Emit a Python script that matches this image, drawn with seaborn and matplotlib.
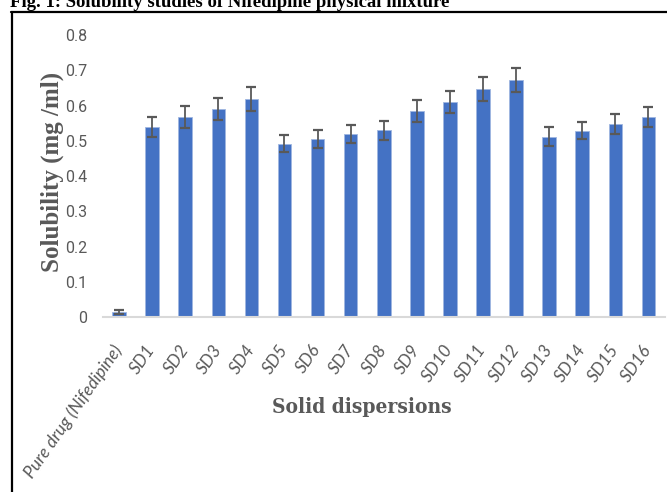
import matplotlib
matplotlib.use("Agg")
import matplotlib.pyplot as plt
from matplotlib import font_manager as fm
from matplotlib.lines import Line2D
import seaborn as sns
import pandas as pd

# Solubility of nifedipine (pure drug) and its solid dispersions SD1-SD16
categories = ["Pure drug (Nifedipine)", "SD1", "SD2", "SD3", "SD4", "SD5", "SD6",
              "SD7", "SD8", "SD9", "SD10", "SD11", "SD12", "SD13", "SD14",
              "SD15", "SD16"]
solubility = [0.014, 0.540, 0.567, 0.590, 0.618, 0.492, 0.506, 0.519, 0.530,
              0.584, 0.611, 0.646, 0.672, 0.512, 0.529, 0.547, 0.567]
std_dev = [0.006, 0.028, 0.031, 0.032, 0.034, 0.025, 0.025, 0.025, 0.027,
           0.031, 0.031, 0.034, 0.034, 0.028, 0.025, 0.028, 0.028]
y_ticks = [0, 0.1, 0.2, 0.3, 0.4, 0.5, 0.6, 0.7, 0.8]
y_tick_labels = ["0", "0.1", "0.2", "0.3", "0.4", "0.5", "0.6", "0.7", "0.8"]

sns.set_theme(style="white")

installed = {f.name for f in fm.fontManager.ttflist}


def first_font(*names, default="DejaVu Sans"):
    for n in names:
        if n in installed:
            return n
    return default


narrow_sans = first_font("Liberation Sans Narrow", "Roboto", "Lato")
italic_sans = first_font("Lato", "Open Sans", "Noto Sans")
serif = first_font("Liberation Serif", "DejaVu Serif")
has_cond_serif = any(f.name == "DejaVu Serif" and "condensed" in str(f.stretch)
                     for f in fm.fontManager.ttflist)

df = pd.DataFrame({"group": categories, "solubility": solubility, "sd": std_dev})

fig = plt.figure(figsize=(6.67, 4.92), dpi=100)
ax = fig.add_axes([0.1537, 0.3551, 0.8433, 0.5738])

sns.barplot(data=df, x="group", y="solubility", color="#4472C4", saturation=1,
            width=0.41, errorbar=None, edgecolor="#9FB6E0", linewidth=0.6, ax=ax)
ax.errorbar(range(len(categories)), df["solubility"], yerr=df["sd"], fmt="none",
            ecolor="#595959", elinewidth=1.3, capsize=3.5, capthick=1.6, zorder=5)

ax.set_xlim(-0.5, len(categories) - 0.5)
ax.set_ylim(0, 0.8)
ax.set_yticks(y_ticks)
ax.set_yticklabels(y_tick_labels, fontfamily=narrow_sans, fontsize=11.5,
                   color="#595959")
ax.tick_params(axis="y", length=0, pad=11)
ax.tick_params(axis="x", length=0, pad=21)
ax.set_xticks(range(len(categories)))
ax.set_xticklabels(categories, rotation=55, ha="right", va="center",
                   rotation_mode="anchor", fontfamily=italic_sans,
                   fontstyle="italic", fontsize=12.5, color="#595959")

for side in ("top", "right", "left"):
    ax.spines[side].set_visible(False)
ax.spines["bottom"].set_color("#D9D9D9")
ax.spines["bottom"].set_linewidth(1.5)
ax.grid(False)

ax.set_xlabel("")
ax.set_ylabel("")

# Axis titles
fig.text(0.078, 1 - 172 / 492, "Solubility (mg /ml)", rotation=90, ha="center",
         va="center", fontfamily=serif, fontweight="bold", fontsize=18,
         color="#595959")
if has_cond_serif:
    fig.text(0.543, 1 - 407 / 492, "Solid dispersions", ha="center",
             va="center", fontfamily="DejaVu Serif", fontstretch="condensed",
             fontweight="bold", fontsize=15, color="#595959")
else:
    fig.text(0.543, 1 - 407 / 492, "Solid dispersions", ha="center",
             va="center", fontfamily=serif, fontweight="bold", fontsize=12.5,
             color="#595959")

# Figure caption above the framed chart
fig.text(10 / 667, 1 - 7 / 492, "Fig. 1: Solubility studies of Nifedipine physical mixture",
         ha="left", va="baseline", fontfamily=serif, fontweight="bold",
         fontsize=13.5, color="black")

# Outer frame around the chart area
fig.add_artist(Line2D([11 / 667, 1.0], [1 - 12 / 492, 1 - 12 / 492],
                      transform=fig.transFigure, color="black", linewidth=1.6))
fig.add_artist(Line2D([12 / 667, 12 / 667], [0.0, 1 - 12 / 492],
                      transform=fig.transFigure, color="black", linewidth=1.6))

fig.savefig("out.png", dpi=100)
